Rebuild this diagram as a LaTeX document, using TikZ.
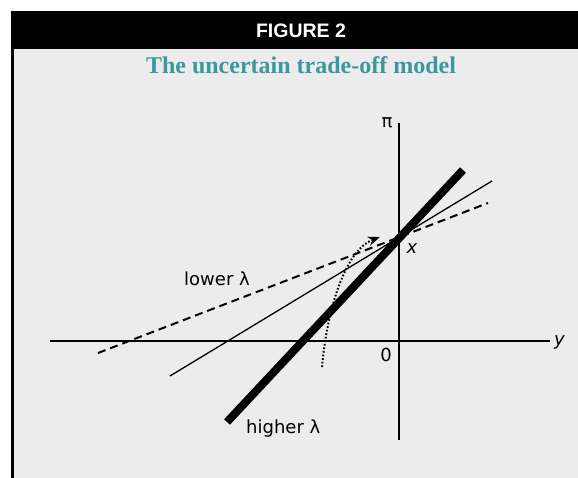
\documentclass[tikz,border=0pt]{standalone}
\usepackage{fontspec}
\setmainfont{DejaVu Sans}
\newfontfamily\headfont{Liberation Sans}
\newfontfamily\titlefont{Liberation Serif}
\usetikzlibrary{arrows.meta}
\definecolor{panelgray}{RGB}{236,236,236}
\definecolor{titleteal}{RGB}{58,152,158}
\tikzset{
  axis/.style={line width=2pt},
  lbl/.style={inner sep=0pt,font=\fontsize{18}{20}\selectfont},
  higherline/.style={line width=8pt},
  midline/.style={line width=1.3pt},
  lowerline/.style={line width=2pt,dash pattern=on 8pt off 5pt},
  shiftarrow/.style={line width=2pt,dash pattern=on 1.6pt off 2pt,-{Stealth[length=12pt,width=9pt]}}
}
\begin{document}
\begin{tikzpicture}[x=1pt,y=-1pt]
  \useasboundingbox (0,0) rectangle (578,478);
  \fill[panelgray] (12,49) rectangle (578,478);
  \fill[black] (11,11) rectangle (578,49.5);
  \draw[line width=2.5pt] (12.3,11) -- (12.3,478);
  \node[text=white,font=\headfont\bfseries\fontsize{19.5}{20}\selectfont] (head) at (301,31) {FIGURE 2};
  \node[anchor=base,text=titleteal,font=\titlefont\bfseries\fontsize{24}{26}\selectfont] (title) at (301,74) {The uncertain trade-off model};
  % axes
  \coordinate (O) at (399,341);
  \coordinate (X) at (399,238);
  \draw[axis] (50,341) -- (550,341);
  \draw[axis] (399,123) -- (399,440);
  % trade-off lines through X
  \coordinate (h1) at (227,422);
  \coordinate (h2) at (463,170);
  \coordinate (m1) at (170,376);
  \coordinate (m2) at (492,181);
  \coordinate (l1) at (98,353);
  \coordinate (l2) at (488,203);
  \draw[lowerline] (l1) -- (l2);
  \draw[midline] (m1) -- (m2);
  \draw[higherline] (h1) -- (h2);
  \coordinate (s1) at (322,367);
  \coordinate (s2) at (380,237);
  \draw[shiftarrow] (s1) .. controls (327,310) and (345,250) .. (s2);
  % labels
  \node[lbl] (pi) at (387,123) {π};
  \node[lbl,font=\fontsize{18}{20}\selectfont\itshape] (xlab) at (412,249) {x};
  \node[lbl,anchor=base west,font=\fontsize{18}{20}\selectfont\itshape] (ylab) at (554,345) {y};
  \node[lbl] (zero) at (386,355) {0};
  \node[lbl] (lower) at (217,279) {lower λ};
  \node[lbl,anchor=base west] (higher) at (246,433) {higher λ};
\end{tikzpicture}
\end{document}
